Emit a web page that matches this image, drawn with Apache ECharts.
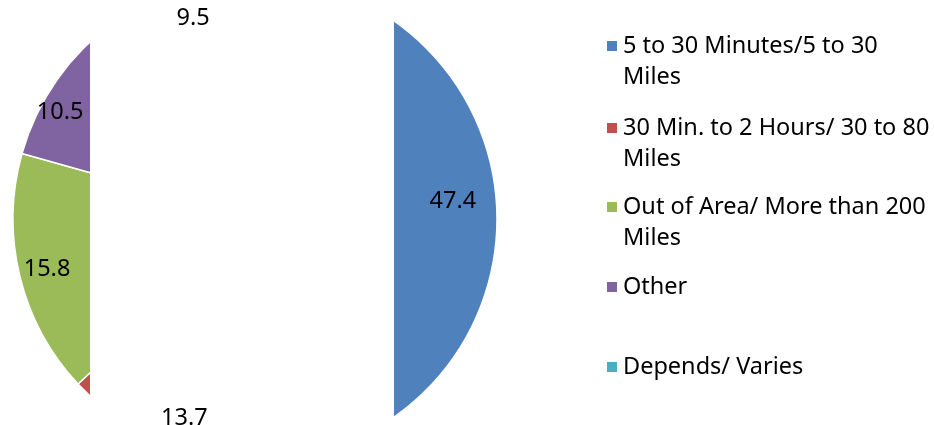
<!DOCTYPE html>
<html><head><meta charset="utf-8">
<script src="https://cdn.jsdelivr.net/npm/echarts@6/dist/echarts.min.js"></script>
<style>html,body{margin:0;padding:0;background:#fff}#c{width:934px;height:425px}</style>
</head><body><div id="c"></div>
<script>
const categories = ['5 to 30 Minutes/5 to 30 Miles','30 Min. to 2 Hours/ 30 to 80 Miles','Out of Area/ More than 200 Miles','Other','Depends/ Varies'];
const legendLabels = ['5 to 30 Minutes/5 to 30\nMiles','30 Min. to 2 Hours/ 30 to 80\nMiles','Out of Area/ More than 200\nMiles','Other','Depends/ Varies'];
const values = [47.4, 13.7, 15.8, 10.5, 9.5];
const colors = ['#4F81BD','#C0504D','#9BBB59','#8064A2','#4BACC6'];
const FONT = 'Noto Sans';
const FS = 23.5;
const LH = 31;
const iconCenters = [46, 128, 207, 287, 367];
// per-label nudges to mimic the original label placement
const labelPadX = [[0,32],[16,0],[0,0],[0,40],[6,0]];   // [left, right] text padding
const labelShiftY = [-10, 0, 0, 17, 3];                 // vertical nudge via blank line

const data = categories.map((n,i)=>({name:n, value:values[i], itemStyle:{color:colors[i]}}));
const center = [255, 219];
const R = 242;

const legends = categories.map((n,i)=>{
  const two = legendLabels[i].indexOf('\n')>=0;
  return {
    data:[n], left:605, top: two ? iconCenters[i]-LH*1.5 : iconCenters[i]-LH/2,
    orient:'vertical', icon:'rect', itemWidth:12, itemHeight:12, itemGap:0, padding:0,
    selectedMode:false,
    formatter: ()=> two ? ' \n' + legendLabels[i] : legendLabels[i],
    textStyle:{fontFamily:FONT, fontSize:FS, lineHeight:LH, color:'#000'}
  };
});

function labelFor(i){
  const s = values[i].toFixed(1);
  const dy = labelShiftY[i];
  const lab = {padding:[0, labelPadX[i][1], 0, labelPadX[i][0]]};
  if (dy > 0) { lab.formatter = ' \n' + s; lab.lineHeight = 2*dy; }
  else if (dy < 0) { lab.formatter = s + '\n '; lab.lineHeight = -2*dy; }
  else { lab.formatter = s; }
  return lab;
}

const chart = echarts.init(document.getElementById('c'), null, {renderer:'canvas'});
chart.setOption({
  animation:false,
  color: colors,
  legend: legends,
  graphic: [{type:'rect', shape:{x:90, y:0, width:304, height:425}, style:{fill:'#fff'}, z:10, silent:true}],
  series:[
    {type:'pie', center:center, radius:[0,R], startAngle:90, clockwise:true, z:2, silent:true,
     data:data, label:{show:false}, labelLine:{show:false},
     itemStyle:{borderColor:'#fff', borderWidth:1.5}},
    {type:'pie', center:center, radius:[R-62,R], startAngle:90, clockwise:true, z:20, silent:true,
     data:data.map((d,i)=>({name:d.name, value:d.value, label:labelFor(i)})),
     itemStyle:{color:'rgba(0,0,0,0)', borderWidth:0},
     label:{show:true, position:'inside', fontFamily:FONT, fontSize:FS, color:'#000'},
     labelLine:{show:false}}
  ]
});
</script></body></html>
